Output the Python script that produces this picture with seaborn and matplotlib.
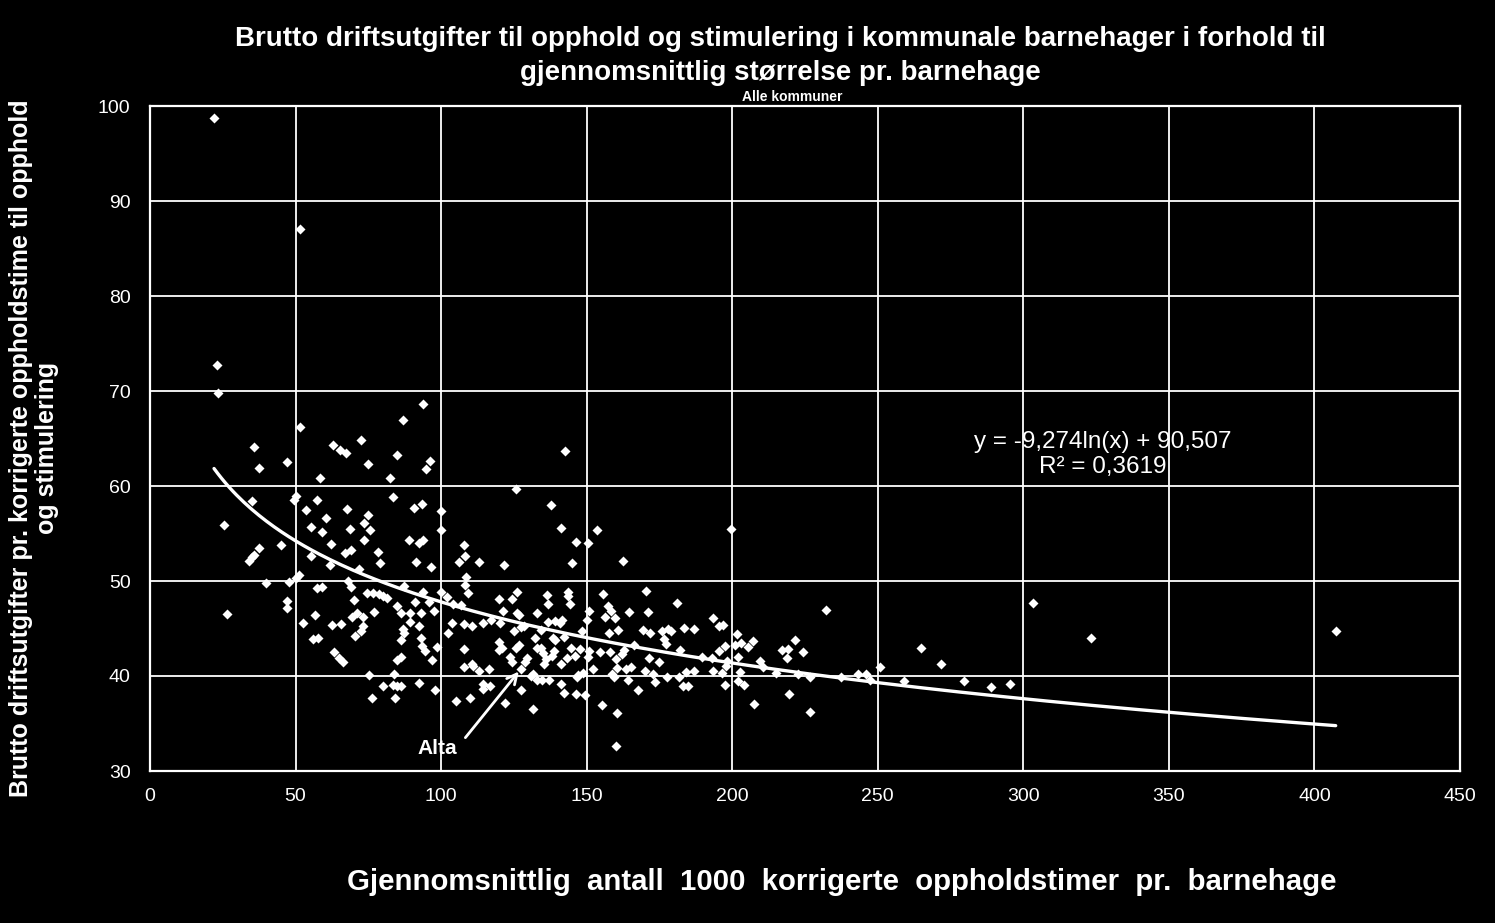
import numpy as np
import pandas as pd
import matplotlib
matplotlib.use("Agg")
import matplotlib.pyplot as plt
import seaborn as sns

# ---- data ----
pts_outliers = [(22.0, 98.7), (51.5, 87.1), (23.0, 72.7), (23.4, 69.8)]

pts_low_x = [
    (93.7, 68.6), (51.5, 66.2), (86.8, 66.9), (35.6, 64.1), (62.7, 64.3), (65.3, 63.8), (67.3, 63.5),
    (72.4, 64.8), (84.7, 63.3), (96.1, 62.6), (94.7, 61.8), (74.8, 62.3), (46.9, 62.5), (37.3, 61.9),
    (58.3, 60.8), (82.3, 60.8), (83.5, 58.8), (35.0, 58.4), (50.0, 58.9), (49.6, 58.5), (57.3, 58.5),
    (53.5, 57.5), (67.6, 57.6), (74.8, 57.0), (90.6, 57.7), (93.3, 58.1), (100.0, 57.4), (100.0, 55.4),
    (25.4, 55.9), (60.3, 56.6), (55.3, 55.7), (68.7, 55.5), (73.4, 56.1), (75.5, 55.4), (59.1, 55.2),
    (73.4, 54.3), (89.0, 54.3), (92.5, 54.0), (93.9, 54.3), (62.2, 53.9), (37.3, 53.5), (44.9, 53.8),
    (35.7, 52.7), (34.9, 52.5), (34.1, 52.1), (55.3, 52.6), (67.1, 52.9), (68.9, 53.3), (78.3, 53.1),
    (78.9, 51.9), (91.3, 52.0), (96.5, 51.5), (61.9, 51.7), (71.7, 51.3), (51.1, 50.6), (50.3, 50.3),
    (39.7, 49.8), (47.7, 49.9), (68.0, 50.0), (68.9, 49.4), (57.3, 49.3), (59.1, 49.4), (74.4, 48.7),
    (76.7, 48.7), (78.8, 48.6), (80.2, 48.4), (81.3, 48.2), (87.3, 49.5), (93.7, 48.8), (100.0, 48.8),
    (101.9, 48.3), (46.9, 47.9), (46.9, 47.2), (26.3, 46.5), (70.1, 48.0), (84.7, 47.4), (91.0, 47.8),
    (96.0, 47.8), (56.6, 46.4), (69.3, 46.2), (71.0, 46.6), (73.3, 46.2), (76.9, 46.7), (86.2, 46.6),
    (89.3, 46.6), (93.0, 46.6), (97.4, 46.8), (52.6, 45.6), (62.4, 45.4), (65.6, 45.5), (73.1, 45.3),
    (72.4, 44.7), (70.4, 44.2), (89.2, 45.7), (92.3, 45.3), (86.8, 44.9), (87.3, 44.5), (86.1, 43.8),
    (93.0, 44.0), (93.3, 43.2), (94.5, 42.6), (96.8, 41.7), (98.7, 43.1), (102.5, 44.5), (56.1, 43.9),
    (57.7, 44.0), (63.1, 42.5), (65.0, 41.9), (66.2, 41.5), (85.0, 41.7), (86.1, 42.0), (75.1, 40.1),
    (83.8, 40.2), (79.9, 39.0), (83.4, 39.1), (85.0, 39.0), (86.2, 38.9), (92.3, 39.3), (97.8, 38.5),
    (76.1, 37.7), (84.0, 37.7),
]

pts_mid_x = [
    (142.4, 63.7), (125.6, 59.7), (137.6, 58.0), (141.1, 55.6), (153.6, 55.4), (199.5, 55.5), (146.2, 54.1),
    (150.5, 54.0), (144.9, 51.9), (162.4, 52.1), (107.8, 53.8), (108.2, 52.6), (106.1, 52.0), (112.9, 52.0),
    (121.6, 51.7), (108.6, 50.4), (108.2, 49.6), (109.2, 48.7), (104.0, 47.6), (106.7, 47.5), (120.0, 48.1),
    (124.4, 48.1), (126.0, 48.8), (121.4, 46.8), (126.9, 46.4), (126.0, 46.6), (132.8, 46.6), (136.3, 48.5),
    (136.7, 47.6), (143.5, 48.8), (143.5, 48.4), (144.3, 47.6), (155.5, 48.6), (157.2, 47.4), (158.4, 46.8),
    (159.7, 46.1), (156.2, 46.2), (150.9, 46.8), (150.0, 45.9), (164.5, 46.7), (170.3, 48.9), (171.1, 46.7),
    (180.9, 47.7), (193.3, 46.1), (195.3, 45.3), (196.7, 45.4), (201.5, 44.4), (201.0, 43.3), (103.6, 45.6),
    (108.0, 45.5), (110.6, 45.3), (114.5, 45.6), (117.3, 45.9), (120.2, 45.6), (124.9, 44.7), (127.4, 45.2),
    (128.5, 45.3), (132.3, 44.0), (134.3, 44.8), (136.8, 45.7), (139.1, 45.8), (140.8, 45.6), (141.4, 45.9),
    (138.6, 44.0), (139.0, 43.8), (142.2, 44.1), (148.3, 44.7), (157.7, 44.5), (160.7, 44.8), (166.2, 43.3),
    (169.4, 44.8), (171.8, 44.5), (175.8, 44.7), (176.6, 43.9), (177.1, 43.4), (177.9, 45.0), (179.0, 44.7),
    (183.4, 45.1), (186.9, 45.0), (120.0, 43.6), (120.0, 42.7), (120.8, 42.9), (126.6, 43.3), (123.7, 42.0),
    (124.5, 41.5), (125.7, 43.0), (129.6, 41.9), (128.9, 41.5), (132.8, 42.9), (134.2, 43.0), (135.1, 42.4),
    (136.0, 41.8), (135.3, 41.3), (138.9, 42.6), (138.2, 42.1), (141.1, 41.3), (143.1, 41.9), (144.6, 43.0),
    (146.0, 42.1), (147.7, 42.8), (150.9, 42.6), (150.6, 42.0), (154.6, 42.5), (158.0, 42.5), (160.1, 41.8),
    (162.0, 42.3), (162.8, 42.7), (165.2, 41.0), (163.5, 40.7), (160.3, 40.8), (158.6, 40.2), (159.5, 39.9),
    (164.2, 39.6), (152.2, 40.7), (148.9, 40.3), (147.0, 40.1), (146.6, 39.9), (171.3, 41.9), (174.7, 41.5),
    (170.2, 40.5), (172.9, 40.2), (177.6, 39.9), (173.5, 39.4), (167.6, 38.5), (182.0, 42.7), (181.7, 39.9),
    (184.1, 40.4), (183.2, 39.0), (184.9, 39.0), (186.9, 40.5), (189.5, 42.0), (193.0, 41.9), (193.5, 40.5),
    (196.4, 40.3), (197.5, 43.2), (197.9, 41.1), (197.5, 39.1), (202.1, 42.0), (202.1, 39.5), (202.7, 40.4),
    (107.9, 42.8), (107.9, 41.0), (110.5, 41.3), (111.1, 41.1), (113.0, 40.5), (116.5, 40.7), (114.5, 39.2),
    (114.5, 38.6), (116.8, 39.0), (110.0, 37.7), (105.0, 37.4), (121.8, 37.2), (127.3, 38.5), (127.3, 40.7),
    (131.7, 40.2), (130.9, 40.0), (132.8, 39.6), (134.5, 39.6), (137.1, 39.6), (141.2, 39.2), (142.2, 38.2),
    (146.2, 38.1), (149.3, 38.0), (131.5, 36.5), (155.2, 37.0), (160.3, 36.1), (160.0, 32.6),
    (195.4, 42.6), (198.1, 41.6),
]

pts_high_x = [
    (232.1, 46.9), (303.2, 47.7), (323.4, 44.0), (265.0, 42.9), (271.6, 41.3), (250.8, 40.9), (258.9, 39.5),
    (279.5, 39.5), (288.9, 38.8), (295.4, 39.2), (207.3, 43.7), (205.4, 43.1), (203.0, 43.5), (204.2, 39.1),
    (207.4, 37.1), (209.5, 41.6), (210.7, 41.0), (215.0, 40.3), (217.0, 42.7), (219.2, 42.8), (218.7, 41.9),
    (221.5, 43.8), (224.2, 42.5), (219.4, 38.1), (222.5, 40.2), (226.7, 39.9), (226.7, 36.2), (237.3, 39.9),
    (243.2, 40.2), (245.8, 40.2), (247.3, 39.6), (407.3, 44.7),
]

trend_a = -9.274
trend_b = 90.507
r_squared = 0.3619

title = ("Brutto driftsutgifter til opphold og stimulering i kommunale barnehager i forhold til\n"
         "gjennomsnittlig størrelse pr. barnehage")
subtitle = "Alle kommuner"
x_label = "Gjennomsnittlig  antall  1000  korrigerte  oppholdstimer  pr.  barnehage"
y_label = "Brutto driftsutgifter pr. korrigerte oppholdstime til opphold\nog stimulering"
alta_label = "Alta"
alta_point = (127.3, 40.7)
x_ticks = [0, 50, 100, 150, 200, 250, 300, 350, 400, 450]
y_ticks = [30, 40, 50, 60, 70, 80, 90, 100]

# ---- build frame ----
all_pts = pts_outliers + pts_low_x + pts_mid_x + pts_high_x
df = pd.DataFrame(all_pts, columns=["timer", "utgift"])

sns.set_style("dark")
plt.rcParams['font.family'] = ['Liberation Sans', 'DejaVu Sans']

W, H = 1495, 923
fig = plt.figure(figsize=(W / 100, H / 100), dpi=100, facecolor='black')
ax = fig.add_axes([150 / W, 1 - 771 / H, 1310 / W, 665 / H])
ax.set_facecolor('black')

sns.scatterplot(data=df, x="timer", y="utgift", marker='D', color='white',
                s=26, linewidth=0, ax=ax, zorder=3)

xs = np.linspace(df["timer"].min(), df["timer"].max(), 300)
ax.plot(xs, trend_a * np.log(xs) + trend_b, color='white', lw=2.4, zorder=4,
        solid_capstyle='round')

ax.set_xlim(x_ticks[0], x_ticks[-1])
ax.set_ylim(y_ticks[0], y_ticks[-1])
ax.set_xticks(x_ticks)
ax.set_yticks(y_ticks)
ax.grid(True, color='white', lw=1.3)
ax.set_axisbelow(True)
for s in ax.spines.values():
    s.set_visible(True)
    s.set_color('white')
    s.set_linewidth(1.6)
ax.tick_params(colors='white', labelcolor='white', labelsize=14, length=5, width=1.2,
               direction='out')
ax.tick_params(axis='y', pad=9)
ax.tick_params(axis='x', pad=7)
ax.set_xlabel('')
ax.set_ylabel('')

eq = f"y = {trend_a:.3f}ln(x) + {trend_b:.3f}".replace('.', ',')
r2 = f"R² = {r_squared:.4f}".replace('.', ',')
ax.text(327.4, 63.3, eq + "\n" + r2, color='white', fontsize=17.5, ha='center', va='center',
        multialignment='center', linespacing=1.2)

ax.annotate(alta_label, xy=alta_point, xytext=(98.6, 32.4), color='white', fontsize=15,
            fontweight='bold', ha='center', va='center',
            arrowprops=dict(arrowstyle='->', color='white', lw=2, relpos=(1.0, 0.5),
                            shrinkA=6, shrinkB=2, mutation_scale=18))

fig.text(780 / W, 1 - 56 / H, title, color='white', fontsize=20, fontweight='bold',
         ha='center', va='center', multialignment='center', linespacing=1.38)
fig.text(792 / W, 1 - 97 / H, subtitle, color='white', fontsize=10, fontweight='bold',
         ha='center', va='center')
fig.text(842 / W, 1 - 882 / H, x_label, color='white', fontsize=21.2, fontweight='bold',
         ha='center', va='center')
fig.text(34 / W, 1 - 448 / H, y_label, color='white', fontsize=18, fontweight='bold',
         ha='center', va='center', rotation=90, multialignment='center', linespacing=1.15)

fig.savefig("out.png", dpi=100, facecolor='black')
